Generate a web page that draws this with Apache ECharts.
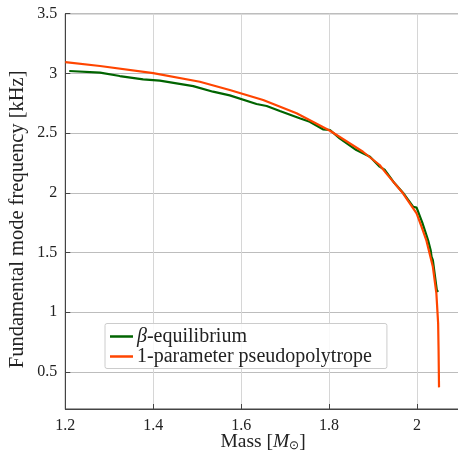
<!DOCTYPE html>
<html>
<head>
<meta charset="utf-8">
<script src="https://cdn.jsdelivr.net/npm/echarts@6/dist/echarts.min.js"></script>
<style>html,body{margin:0;padding:0;background:#fff}#c{width:458px;height:456px}</style>
</head>
<body>
<div id="c"></div>
<script>
const xTicks = [1.2, 1.4, 1.6, 1.8, 2.0];
const yTicks = [0.5, 1, 1.5, 2, 2.5, 3, 3.5];

const seriesNames = ['β-equilibrium', '1-parameter pseudopolytrope'];

const massBeta = [1.209, 1.279, 1.324, 1.377, 1.415, 1.491, 1.536, 1.574, 1.635, 1.658, 1.688, 1.733, 1.756, 1.786, 1.802, 1.824, 1.862, 1.893, 1.915, 1.927, 1.949, 1.968, 1.991, 1.999, 2.012, 2.025, 2.031, 2.033, 2.036, 2.045, 2.048];
const freqBeta = [3.020, 3.006, 2.978, 2.950, 2.939, 2.894, 2.847, 2.816, 2.744, 2.727, 2.685, 2.624, 2.595, 2.532, 2.526, 2.456, 2.358, 2.302, 2.219, 2.191, 2.080, 2.001, 1.884, 1.876, 1.750, 1.605, 1.520, 1.465, 1.437, 1.186, 1.170];

const massPoly = [1.200, 1.279, 1.400, 1.506, 1.574, 1.650, 1.726, 1.802, 1.877, 1.915, 1.930, 1.968, 1.999, 2.010, 2.021, 2.036, 2.044, 2.048, 2.049, 2.050];
const freqPoly = [3.095, 3.062, 3.003, 2.930, 2.861, 2.777, 2.666, 2.520, 2.344, 2.233, 2.163, 1.996, 1.828, 1.720, 1.605, 1.381, 1.158, 0.907, 0.683, 0.371];

const font = 'Liberation Serif';
const toPairs = (xs, ys) => xs.map((x, i) => [x, ys[i]]);

const chart = echarts.init(document.getElementById('c'), null, {renderer: 'canvas'});
chart.setOption({
  animation: false,
  backgroundColor: '#fff',
  grid: {left: 65.3, right: -3, top: 13.7, bottom: 47, containLabel: false, outerBoundsMode: 'none',
         show: true, borderColor: '#444', borderWidth: 1, backgroundColor: 'transparent'},
  xAxis: {
    type: 'value', min: 1.2, max: 2.1, interval: 0.2,
    name: 'Mass [{i|M}{s|⊙}]', nameLocation: 'middle', nameGap: 23, nameMoveOverlap: false,
    nameTextStyle: {fontFamily: font, fontSize: 19.5, color: '#222',
      rich: {i: {fontFamily: font, fontStyle: 'italic', fontSize: 19.5, color: '#222'},
             s: {fontFamily: font, fontSize: 12, color: '#222', padding: [8, 0, 0, 0]}}},
    axisLine: {show: true, lineStyle: {color: '#444', width: 1}},
    axisTick: {show: true, inside: true, length: 5, lineStyle: {color: '#444'}},
    axisLabel: {fontFamily: font, fontSize: 16, color: '#222', margin: 9,
      formatter: v => (Math.abs(v - 2) < 1e-9 ? '2' : v.toFixed(1)),
      customValues: xTicks},
    splitLine: {show: true, lineStyle: {color: '#d6d6d6', width: 1}}
  },
  yAxis: {
    type: 'value', min: 0.19, max: 3.5,
    name: 'Fundamental mode frequency [kHz]', nameLocation: 'middle', nameGap: 37.5, nameMoveOverlap: false,
    nameTextStyle: {fontFamily: font, fontSize: 20.5, color: '#222', padding: [0, 16, 0, 0]},
    axisLine: {show: true, lineStyle: {color: '#444', width: 1}},
    axisTick: {show: true, inside: true, length: 5, lineStyle: {color: '#444'}, customValues: yTicks},
    axisLabel: {fontFamily: font, fontSize: 16, color: '#222', margin: 8,
      customValues: yTicks,
      formatter: v => String(v)},
    splitLine: {show: true, lineStyle: {color: '#bdbdbd', width: 1}}
  },
  legend: {
    orient: 'vertical', left: 105, top: 323.5,
    backgroundColor: 'rgba(255,255,255,0.85)', borderColor: '#cccccc', borderWidth: 1, borderRadius: 2,
    padding: [3, 15, 2, 5], itemGap: 0, itemWidth: 23, itemHeight: 2.5, icon: 'rect',
    data: seriesNames,
    formatter: n => (n === seriesNames[0] ? '{i|β}-equilibrium' : n),
    textStyle: {fontFamily: font, fontSize: 20, lineHeight: 20, color: '#222', padding: [0, 0, 0, -1],
      rich: {i: {fontFamily: font, fontStyle: 'italic', fontSize: 20, lineHeight: 20, color: '#222'}}}
  },
  series: [
    {name: seriesNames[0], type: 'line', data: toPairs(massBeta, freqBeta), showSymbol: false, symbol: 'none',
     lineStyle: {color: '#006400', width: 2.2}, itemStyle: {color: '#006400'}, z: 2},
    {name: seriesNames[1], type: 'line', data: toPairs(massPoly, freqPoly), showSymbol: false, symbol: 'none',
     lineStyle: {color: '#ff4500', width: 2.2}, itemStyle: {color: '#ff4500'}, z: 3}
  ]
});
</script>
</body>
</html>
